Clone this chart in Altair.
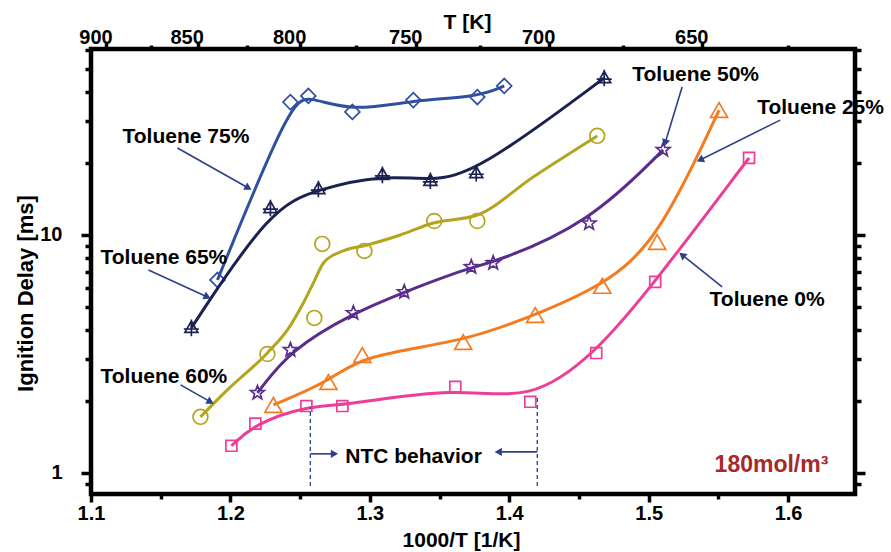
import math
import altair as alt
import pandas as pd

# ---------------- data ----------------
SERIES = ["Toluene 75%", "Toluene 65%", "Toluene 60%", "Toluene 50%", "Toluene 25%", "Toluene 0%"]

X_T75 = [1.1907, 1.2430, 1.2559, 1.2875, 1.3312, 1.3771, 1.3964]
Y_T75 = [6.47, 36.2, 38.4, 32.9, 36.9, 38.0, 42.3]

X_T65 = [1.1720, 1.2287, 1.2631, 1.3090, 1.3434, 1.3763, 1.4681]
Y_T65 = [4.07, 12.98, 15.6, 17.9, 16.9, 18.2, 45.7]

X_T60 = [1.1785, 1.2265, 1.2602, 1.2659, 1.2961, 1.3462, 1.3771, 1.4631]
Y_T60 = [1.72, 3.16, 4.48, 9.17, 8.57, 11.45, 11.45, 26.1]

X_T50 = [1.2194, 1.2430, 1.2882, 1.3247, 1.3728, 1.3885, 1.4573, 1.5104]
Y_T50 = [2.17, 3.29, 4.70, 5.76, 7.34, 7.63, 11.2, 22.8]

X_T25 = [1.2308, 1.2703, 1.2946, 1.3670, 1.4186, 1.4667, 1.5061, 1.5505]
Y_T25 = [1.93, 2.41, 3.13, 3.55, 4.61, 6.11, 9.34, 33.5]

X_T0 = [1.2007, 1.2179, 1.2545, 1.2803, 1.3613, 1.4151, 1.4624, 1.5047, 1.5720]
Y_T0 = [1.30, 1.61, 1.91, 1.91, 2.30, 1.99, 3.19, 6.35, 21.1]

XS = [X_T75, X_T65, X_T60, X_T50, X_T25, X_T0]
YS = [Y_T75, Y_T65, Y_T60, Y_T50, Y_T25, Y_T0]

# fitted curve of the 60 % series (it does not pass through every point)
FIT_X_T60 = [1.1785, 1.1978, 1.2265, 1.2409, 1.2523, 1.2595, 1.2667, 1.2789, 1.2982,
             1.3219, 1.3455, 1.3771, 1.4172, 1.4631]
FIT_Y_T60 = [1.719, 2.233, 3.193, 3.990, 5.180, 6.285, 7.627, 8.483, 9.078,
             10.0, 11.23, 12.13, 17.53, 26.06]

# annotation labels
LABELS = ["Toluene 75%", "Toluene 65%", "Toluene 60%", "Toluene 50%", "Toluene 25%", "Toluene 0%", "NTC behavior"]
LABEL_X = [1.1226, 1.1068, 1.1068, 1.4882, 1.5778, 1.5437, 1.2824]
LABEL_Y = [25.8, 8.0, 2.53, 47.0, 34.2, 5.33, 1.167]

NOTE = ["180mol/m\u00b3"]
NOTE_X = [1.5473]
NOTE_Y = [1.08]

# annotation arrows (start -> head)
ARROW_X0 = [1.1620, 1.1412, 1.1642, 1.5240, 1.5943, 1.5527, 1.2573, 1.4201]
ARROW_Y0 = [23.2, 7.13, 2.343, 41.9, 30.4, 6.05, 1.202, 1.225]
ARROW_X1 = [1.2129, 1.1835, 1.1857, 1.5118, 1.5369, 1.5240, 1.2746, 1.3921]
ARROW_Y1 = [15.76, 5.49, 1.988, 24.35, 20.66, 8.24, 1.202, 1.225]

# NTC limits (dashed verticals)
NTC_X = [1.2573, 1.4201]
NTC_Y0 = [0.88, 0.88]
NTC_Y1 = [1.894, 2.10]

# axis ticks
X_MAJOR = [1.1, 1.2, 1.3, 1.4, 1.5, 1.6]
X_MINOR = [1.15, 1.25, 1.35, 1.45, 1.55]
T_MAJOR = [900, 850, 800, 750, 700, 650]
T_MINOR = [875, 825, 775, 725, 675, 625]
Y_LABELS = [1, 10]
Y_MAJOR = [1, 10]
Y_MINOR = [0.9, 2, 3, 4, 5, 6, 7, 8, 9, 20, 30, 40, 50, 60]

# ---------------- styles ----------------
COLORS = ["#2F4FA2", "#1B2252", "#B5A51E", "#5A2D8C", "#F47B20", "#EE3D96"]


def star_path(n=5, r_in=0.42):
    pts = []
    for k in range(2 * n):
        r = 1.0 if k % 2 == 0 else r_in
        a = math.radians(-90 + 180.0 / n * k)
        pts.append(f"{r * math.cos(a):.3f},{r * math.sin(a):.3f}")
    return "M" + "L".join(pts) + "Z"


TRI_PLUS = "M0,-0.9L0.85,0.6L-0.85,0.6Z M0,-1.1L0,1.1 M-1,0.15L1,0.15"
SHAPES = ["diamond", TRI_PLUS, "circle", star_path(), "triangle-up", "square"]
SIZES = [220, 230, 220, 210, 290, 120]

FONT = "Liberation Sans"
ARROW_COLOR = "#2B3F8A"
NOTE_COLOR = "#A8282C"

X_DOMAIN = [1.1, 1.648]
Y_DOMAIN = [0.815, 60.5]
W, H = 764, 445

# ---------------- tables ----------------
rows = []
line_rows = []
for name, col, shp, sz, xs, ys in zip(SERIES, COLORS, SHAPES, SIZES, XS, YS):
    for i, (a, b) in enumerate(zip(xs, ys)):
        rows.append(dict(series=name, x=a, y=b, order=i, col=col, shp=shp, msize=sz))
        if name != "Toluene 60%":
            line_rows.append(dict(series=name, x=a, y=b, order=i, col=col))
df = pd.DataFrame(rows)
line_df = pd.DataFrame(line_rows)
fit_df = pd.DataFrame(dict(x=FIT_X_T60, y=FIT_Y_T60, order=range(len(FIT_X_T60))))

lab_df = pd.DataFrame(dict(label=LABELS, x=LABEL_X, y=LABEL_Y))
note_df = pd.DataFrame(dict(label=NOTE, x=NOTE_X, y=NOTE_Y))

LOG0, LOG1 = math.log10(Y_DOMAIN[0]), math.log10(Y_DOMAIN[1])
DEC_PX = H / (LOG1 - LOG0)                  # pixels per decade
XU_PX = W / (X_DOMAIN[1] - X_DOMAIN[0])     # pixels per x unit


def px(v):
    return (v - X_DOMAIN[0]) * XU_PX


def py(v):
    return (LOG1 - math.log10(v)) * DEC_PX


arrow_rows = []
head_rows = []
for i, (x0, y0, x1, y1) in enumerate(zip(ARROW_X0, ARROW_Y0, ARROW_X1, ARROW_Y1)):
    arrow_rows.append(dict(aid=i, o=0, x=x0, y=y0))
    arrow_rows.append(dict(aid=i, o=1, x=x1, y=y1))
    dx = px(x1) - px(x0)
    dy = py(y1) - py(y0)
    ang = math.degrees(math.atan2(dx, -dy)) % 360
    head_rows.append(dict(x=x1, y=y1, ang=ang))
arrow_df = pd.DataFrame(arrow_rows)
head_df = pd.DataFrame(head_rows)
ntc_df = pd.DataFrame(dict(x=NTC_X, y0=NTC_Y0, y1=NTC_Y1))

T_MAJOR_POS = [1000.0 / t for t in T_MAJOR]
T_MINOR_POS = [1000.0 / t for t in T_MINOR]

xscale = alt.Scale(domain=X_DOMAIN, nice=False, zero=False)
yscale = alt.Scale(type="log", domain=Y_DOMAIN, nice=False)


def X(axis=None, field="x"):
    return alt.X(f"{field}:Q", scale=xscale, axis=axis)


def Y(axis=None, field="y"):
    return alt.Y(f"{field}:Q", scale=yscale, axis=axis)


def tick_axis(orient, values, size):
    return alt.Axis(orient=orient, values=values, labels=False, domain=False, grid=False,
                    ticks=True, tickSize=size, tickWidth=3.5, tickColor="black",
                    tickCap="butt", title=None)


LAB = dict(labelFont=FONT, labelFontSize=20, labelFontWeight="bold", labelColor="black",
           titleFont=FONT, titleFontWeight="bold", titleColor="black")

# ---------------- layers ----------------
lines = alt.Chart(line_df).mark_line(interpolate="basis", strokeWidth=3).encode(
    x=X(), y=Y(),
    color=alt.Color("col:N", scale=None),
    detail="series:N",
    order="order:Q",
)
fit60 = alt.Chart(fit_df).mark_line(interpolate="monotone", strokeWidth=3, color=COLORS[2]).encode(
    x=X(), y=Y(), order="order:Q"
)

points = alt.Chart(df).mark_point(filled=False, strokeWidth=1.7, opacity=1).encode(
    x=X(alt.Axis(orient="bottom", values=X_MAJOR, format=".1f", ticks=False, domain=False,
                 grid=False, labelPadding=9, labelFlush=False, labelOverlap=False,
                 title="1000/T [1/K]", titleX=370, titleY=46, titleBaseline="middle",
                 titleFontSize=21, **LAB)),
    y=Y(alt.Axis(orient="left", values=Y_LABELS, format="d", ticks=False, domain=False,
                 grid=False, labelPadding=29, labelOverlap=False,
                 title="Ignition Delay [ms]", titleX=-66, titleY=244, titleAngle=270,
                 titleBaseline="middle", titleAlign="center", titleFontSize=22, **LAB)),
    color=alt.Color("col:N", scale=None),
    shape=alt.Shape("shp:N", scale=None),
    size=alt.Size("msize:Q", scale=None),
)

# temperature labels on top
t_labels = alt.Chart(df).mark_point(opacity=0).encode(
    x=X(alt.Axis(orient="top", values=T_MAJOR_POS,
                 labelExpr="format(1000/datum.value, '.0f')", ticks=False, domain=False,
                 grid=False, labelPadding=6, labelBaseline="alphabetic", labelOffset=-11,
                 labelFlush=False, labelOverlap=False,
                 title="T [K]", titleX=376, titleY=-27, titleBaseline="middle",
                 titleFontSize=21, **LAB)),
    y=Y(),
)

# tick-only axes on the four sides of the frame (major and minor)
tick_layers = [
    alt.Chart(df).mark_point(opacity=0).encode(
        x=X(tick_axis("bottom", X_MAJOR, 8)), y=Y(tick_axis("left", Y_MAJOR, 10))),
    alt.Chart(df).mark_point(opacity=0).encode(
        x=X(tick_axis("bottom", X_MINOR, 5)), y=Y(tick_axis("left", Y_MINOR, 6))),
    alt.Chart(df).mark_point(opacity=0).encode(
        x=X(tick_axis("top", T_MAJOR_POS, 6)), y=Y(tick_axis("right", Y_MAJOR, 10))),
    alt.Chart(df).mark_point(opacity=0).encode(
        x=X(tick_axis("top", T_MINOR_POS, 4)), y=Y(tick_axis("right", Y_MINOR, 6))),
]

arrows = alt.Chart(arrow_df).mark_line(color=ARROW_COLOR, strokeWidth=1.6).encode(
    x=X(), y=Y(), detail="aid:N", order="o:Q"
)
heads = alt.Chart(head_df).mark_point(
    shape="triangle-up", filled=True, size=70, color=ARROW_COLOR, opacity=1
).encode(x=X(), y=Y(), angle=alt.Angle("ang:Q", scale=None))

ntc = alt.Chart(ntc_df).mark_rule(color=ARROW_COLOR, strokeWidth=1.3, strokeDash=[4, 3]).encode(
    x=X(), y=Y(field="y0"), y2="y1:Q"
)

texts = alt.Chart(lab_df).mark_text(
    align="left", baseline="middle", font=FONT, fontSize=21, fontWeight="bold", color="black"
).encode(x=X(), y=Y(), text="label:N")

note = alt.Chart(note_df).mark_text(
    align="left", baseline="middle", font=FONT, fontSize=23, fontWeight="bold", color=NOTE_COLOR
).encode(x=X(), y=Y(), text="label:N")

chart = alt.layer(
    points, t_labels, *tick_layers, lines, fit60, ntc, arrows, heads, texts, note
).resolve_axis(
    x="independent", y="independent"
).properties(
    width=W, height=H,
    autosize=alt.AutoSizeParams(type="none"),
    padding={"left": 91, "top": 49, "right": 36, "bottom": 58},
    background="white",
).configure_view(stroke="black", strokeWidth=4.5)

chart.save("out.html", embed_options={"renderer": "svg", "actions": False})
